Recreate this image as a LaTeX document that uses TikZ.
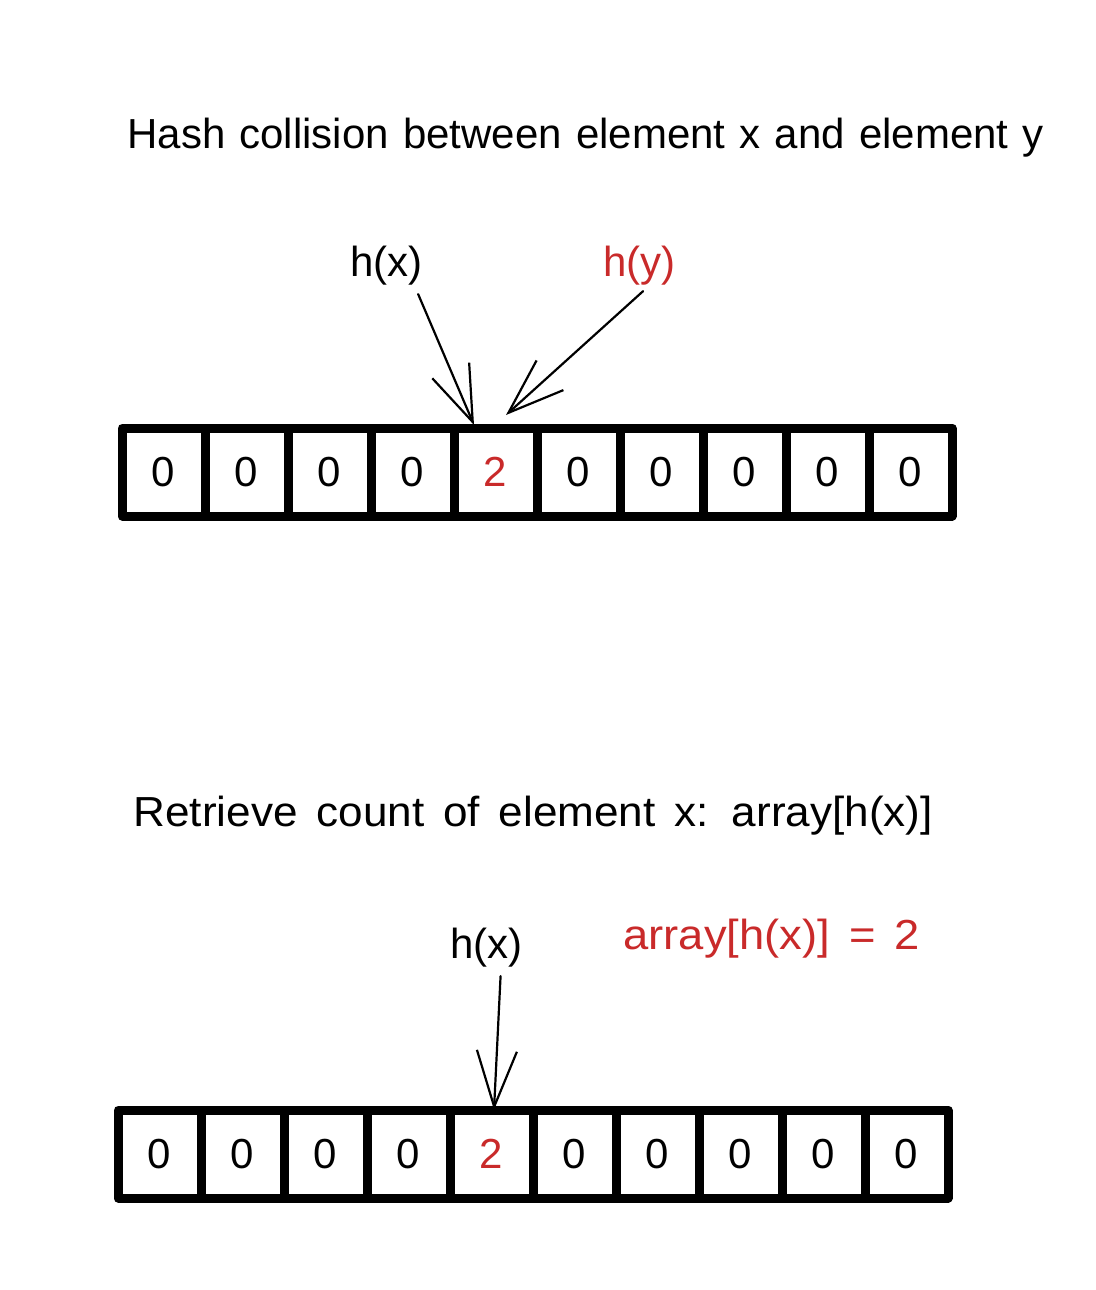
\documentclass[tikz,border=0pt]{standalone}
\usepackage{fontspec}
\setmainfont{Liberation Sans}
\usetikzlibrary{arrows.meta}
\definecolor{excred}{RGB}{201,42,42}
\begin{document}
\begin{tikzpicture}[x=0.5pt,y=-0.5pt,
  txt/.style={font=\fontsize{21}{25}\selectfont, inner sep=0pt, text=black},
  cell/.style={draw, line width=4.5pt, line join=round, minimum width=41.5pt, minimum height=44pt, inner sep=0pt, font=\fontsize{21}{25}\selectfont},
  arr/.style={line width=1.1pt, line cap=round, -{Straight Barb[length=28pt,width=20pt]}}]
\fill[white] (0,0) rectangle (1096,1290);
\useasboundingbox (0,0) rectangle (1096,1290);
% titles
\node[txt, anchor=base west] (t1) at (127,148) {\spaceskip=7.1pt\relax Hash collision between element x and element y};
\node[txt, anchor=base west] (t2) at (133,826) {\scalebox{1.05}[1]{\spaceskip=9pt\relax Retrieve count of element x: array[h(x)]}};
% labels
\node[txt, anchor=base west] (hx1) at (350,276) {h(x)};
\node[txt, anchor=base west, text=excred] (hy1) at (603,276) {h(y)};
\node[txt, anchor=base west] (hx2) at (450,958) {h(x)};
\node[txt, anchor=base west, text=excred] (eq2) at (623,949) {\scalebox{1.08}[1]{\spaceskip=8.9pt\relax array[h(x)] = 2}};
% arrays
\foreach \i/\v/\c in {1/0/black,2/0/black,3/0/black,4/0/black,5/2/excred,6/0/black,7/0/black,8/0/black,9/0/black,10/0/black}{
  \node[cell, text=\c] (a\i) at ({163.5+83*(\i-1)},472) {\v};
  \node[cell, text=\c] (b\i) at ({159.5+83*(\i-1)},1154) {\v};
}
% arrows
\draw[arr] ([shift={(-5,9)}]hx1.south east) -- ([shift={(24.5,1.5)}]a5.north west);
\draw[arr] ([shift={(-33,6)}]hy1.south east) -- ([shift={(56.5,-8.5)}]a5.north west);
\draw[arr] ([shift={(14,9)}]hx2.south) -- ([shift={(2.5,4.5)}]b5.north);
\end{tikzpicture}
\end{document}
